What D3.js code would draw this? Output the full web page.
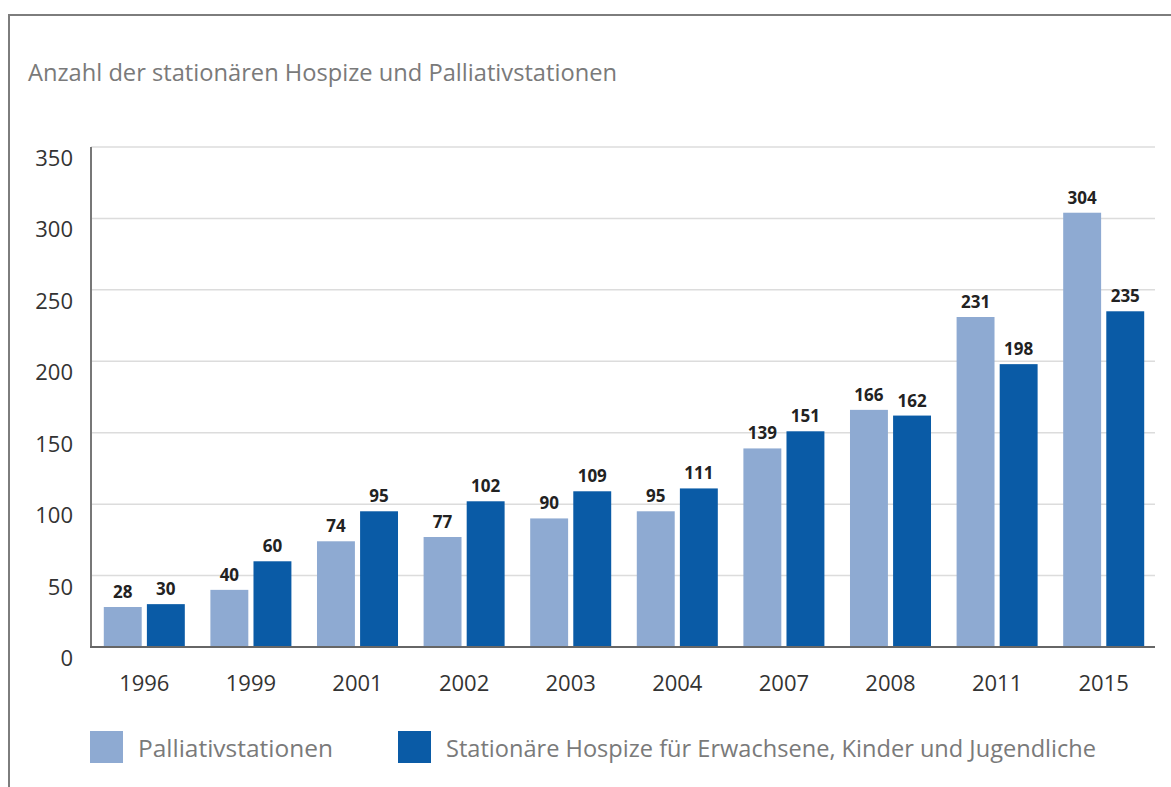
<!DOCTYPE html>
<html>
<head>
<meta charset="utf-8">
<script src="https://cdn.jsdelivr.net/npm/d3@7"></script>
<style>
  body { margin: 0; background: #fff; }
  text { font-family: "Open Sans", "Noto Sans", sans-serif; }
</style>
</head>
<body>
<svg id="chart" width="1171" height="787"></svg>
<script>
const years = ['1996', '1999', '2001', '2002', '2003', '2004', '2007', '2008', '2011', '2015'];
const palliativ = [28, 40, 74, 77, 90, 95, 139, 166, 231, 304];
const hospize = [30, 60, 95, 102, 109, 111, 151, 162, 198, 235];
const seriesNames = ['Palliativstationen', 'Stationäre Hospize für Erwachsene, Kinder und Jugendliche'];
const yTicks = [0, 50, 100, 150, 200, 250, 300, 350];
const colors = ['#8eaad2', '#0a5ba6'];

const svg = d3.select('#chart');

// frame
svg.append('line').attr('x1', 8).attr('x2', 1171).attr('y1', 15).attr('y2', 15)
    .attr('stroke', '#7d7d7d').attr('stroke-width', 2);
svg.append('line').attr('x1', 9).attr('x2', 9).attr('y1', 15).attr('y2', 787)
    .attr('stroke', '#7d7d7d').attr('stroke-width', 2);

svg.append('text')
    .attr('x', 28).attr('y', 81)
    .attr('font-size', 23).attr('fill', '#7a7a7a')
    .attr('textLength', 589).attr('lengthAdjust', 'spacingAndGlyphs')
    .text('Anzahl der stationären Hospize und Palliativstationen');

const x = d3.scaleBand().domain(years).range([91, 1157]).paddingInner(0.24).paddingOuter(0.12);
const x1 = d3.scaleBand().domain([0, 1]).range([0, x.bandwidth()]).paddingInner(0.12);
const y = d3.scaleLinear().domain([0, 350]).range([647, 147]);

// grid
svg.append('g').selectAll('line').data(yTicks.filter(d => d > 0)).join('line')
    .attr('x1', 91).attr('x2', 1155)
    .attr('y1', d => y(d)).attr('y2', d => y(d))
    .attr('stroke', '#dcdcdc').attr('stroke-width', 1.5);

// y labels
svg.append('g').selectAll('text').data(yTicks).join('text')
    .attr('x', 73).attr('y', d => y(d) + 19)
    .attr('text-anchor', 'end')
    .attr('font-size', 22).attr('fill', '#333')
    .text(d => d);

const data = years.map((yr, i) => ({ year: yr, values: [palliativ[i], hospize[i]] }));

const groups = svg.append('g').selectAll('g').data(data).join('g')
    .attr('transform', d => `translate(${x(d.year)},0)`);

groups.selectAll('rect').data(d => d.values.map((v, k) => ({ v, k }))).join('rect')
    .attr('x', d => x1(d.k))
    .attr('width', x1.bandwidth())
    .attr('y', d => y(d.v))
    .attr('height', d => y(0) - y(d.v))
    .attr('fill', d => colors[d.k]);

groups.selectAll('text.val').data(d => d.values.map((v, k) => ({ v, k }))).join('text')
    .attr('class', 'val')
    .attr('x', d => x1(d.k) + x1.bandwidth() / 2)
    .attr('y', d => y(d.v) - 9)
    .attr('text-anchor', 'middle')
    .attr('font-size', 17).attr('font-weight', 'bold').attr('fill', '#222')
    .text(d => d.v);

// axes lines
svg.append('line').attr('x1', 91).attr('x2', 91).attr('y1', 147).attr('y2', 648)
    .attr('stroke', '#777').attr('stroke-width', 2);
svg.append('line').attr('x1', 90).attr('x2', 1155).attr('y1', 647).attr('y2', 647)
    .attr('stroke', '#666').attr('stroke-width', 2);

// x labels
svg.append('g').selectAll('text').data(years).join('text')
    .attr('x', d => x(d) + x.bandwidth() / 2)
    .attr('y', 691)
    .attr('text-anchor', 'middle')
    .attr('font-size', 22).attr('fill', '#333')
    .text(d => d);

// legend
const legendX = [90, 398];
const legendW = [195, 650];
const legend = svg.append('g').selectAll('g').data(seriesNames).join('g')
    .attr('transform', (d, i) => `translate(${legendX[i]},731)`);
legend.append('rect').attr('width', 33).attr('height', 32).attr('fill', (d, i) => colors[i]);
legend.append('text').attr('x', 48).attr('y', 26)
    .attr('font-size', 23).attr('fill', '#7a7a7a')
    .attr('textLength', (d, i) => legendW[i]).attr('lengthAdjust', 'spacingAndGlyphs')
    .text(d => d);
</script>
</body>
</html>
